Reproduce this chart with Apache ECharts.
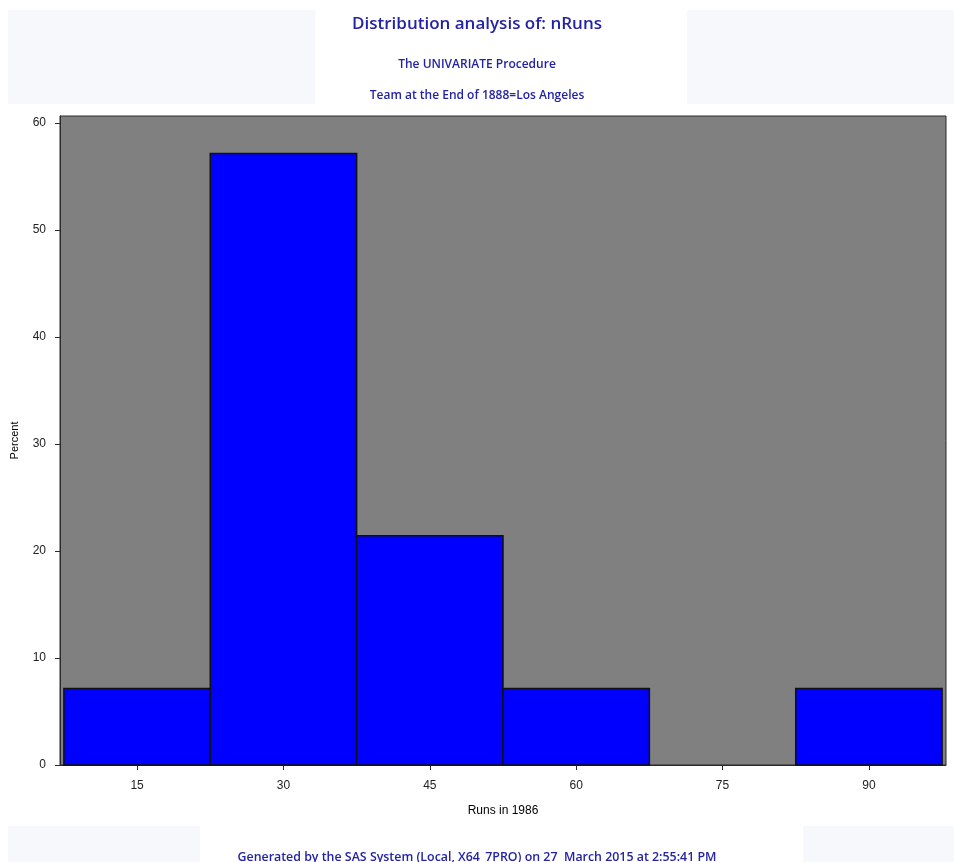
<!DOCTYPE html>
<html>
<head>
<meta charset="utf-8">
<script src="https://cdn.jsdelivr.net/npm/echarts@6/dist/echarts.min.js"></script>
<style>
  html, body { margin: 0; padding: 0; background: #ffffff; }
  #chart { width: 954px; height: 862px; }
</style>
</head>
<body>
<div id="chart"></div>
<script>
// Histogram bins (Runs in 1986) and percent of players per bin
const binMidpoints = [15, 30, 45, 60, 75, 90];
const binWidth = 15;
const percents = [7.14, 57.14, 21.43, 7.14, 0, 7.14];
const yTicks = [0, 10, 20, 30, 40, 50, 60];

const titleText = 'Distribution analysis of: nRuns';
const subtitle1 = 'The UNIVARIATE Procedure';
const subtitle2 = 'Team at the End of 1888=Los Angeles';
const footerText = 'Generated by the SAS System (Local, X64_7PRO) on 27  March 2015 at 2:55:41 PM';

const bins = binMidpoints.map((m, i) => [m - binWidth / 2, m + binWidth / 2, percents[i]]);

const sasBlue = '#2323a6';
const axisFont = 'Liberation Sans, Arial, sans-serif';
const chart = echarts.init(document.getElementById('chart'), null, { renderer: 'canvas' });

chart.setOption({
  animation: false,
  backgroundColor: '#ffffff',
  graphic: [
    { type: 'rect', z: -10, shape: { x: 8, y: 10, width: 307, height: 94 }, style: { fill: '#f7f8fc' } },
    { type: 'rect', z: -10, shape: { x: 687, y: 10, width: 267, height: 94 }, style: { fill: '#f7f8fc' } },
    { type: 'rect', z: -10, shape: { x: 8, y: 826, width: 192, height: 36 }, style: { fill: '#f7f8fc' } },
    { type: 'rect', z: -10, shape: { x: 803, y: 826, width: 151, height: 36 }, style: { fill: '#f7f8fc' } },
    { type: 'text', left: 'center', top: 16, style: { text: titleText, fill: sasBlue, font: '600 17px "Open Sans", "Noto Sans", sans-serif' } },
    { type: 'text', left: 'center', top: 59, style: { text: subtitle1, fill: sasBlue, font: '600 12px "Open Sans", "Noto Sans", sans-serif' } },
    { type: 'text', left: 'center', top: 90, style: { text: subtitle2, fill: sasBlue, font: '600 12px "Open Sans", "Noto Sans", sans-serif' } },
    { type: 'text', left: 'center', top: 851, style: { text: footerText, fill: sasBlue, font: '600 12.4px "Open Sans", "Noto Sans", sans-serif' } }
  ],
  grid: {
    left: 60, right: 8, top: 116, bottom: 97,
    show: true,
    backgroundColor: '#808080',
    borderColor: '#2b2b2b',
    borderWidth: 1
  },
  xAxis: {
    type: 'value',
    min: 7.1,
    max: 97.9,
    name: 'Runs in 1986',
    nameLocation: 'middle',
    nameGap: 40,
    nameTextStyle: { color: '#000', fontSize: 12, fontFamily: axisFont },
    axisLine: { show: true, onZero: false, lineStyle: { color: '#2b2b2b', width: 1 } },
    axisTick: { show: true, length: 5, lineStyle: { color: '#2b2b2b' }, customValues: binMidpoints },
    axisLabel: { color: '#222', fontSize: 12, margin: 15, fontFamily: axisFont, customValues: binMidpoints },
    splitLine: { show: false }
  },
  yAxis: {
    type: 'value',
    min: 0,
    max: 60.65,
    name: 'Percent',
    nameLocation: 'middle',
    nameGap: 40,
    nameRotate: 90,
    nameTextStyle: { color: '#000', fontSize: 11, fontFamily: axisFont },
    axisLine: { show: true, lineStyle: { color: '#2b2b2b', width: 1 } },
    axisTick: { show: true, length: 5, lineStyle: { color: '#2b2b2b' }, customValues: yTicks },
    axisLabel: { color: '#222', fontSize: 12, margin: 14, fontFamily: axisFont, customValues: yTicks },
    splitLine: { show: false }
  },
  series: [{
    type: 'custom',
    data: bins,
    encode: { x: [0, 1], y: 2 },
    renderItem: function (params, api) {
      const value = api.value(2);
      if (value <= 0) return null;
      const p0 = api.coord([api.value(0), value]);
      const p1 = api.coord([api.value(1), 0]);
      return {
        type: 'rect',
        shape: { x: p0[0], y: p0[1], width: p1[0] - p0[0], height: p1[1] - p0[1] },
        style: { fill: '#0000ff', stroke: '#111', lineWidth: 1.5 }
      };
    }
  }]
});
</script>
</body>
</html>
